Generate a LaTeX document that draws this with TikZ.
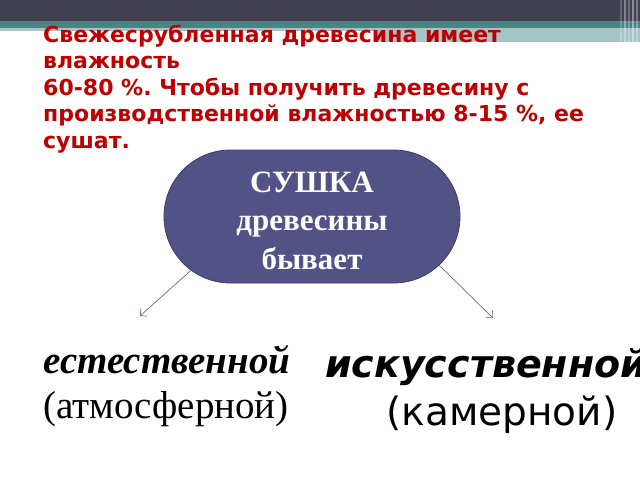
\documentclass[tikz,border=0pt]{standalone}
\usepackage{fontspec}
\setmainfont{Liberation Serif}
\newfontfamily\dejavu{DejaVu Sans}
\usetikzlibrary{shapes.misc,arrows.meta}
\definecolor{barDark}{HTML}{41414F}
\definecolor{barTeal}{HTML}{4A8585}
\definecolor{barLight}{HTML}{A4C4C6}
\definecolor{titleRed}{HTML}{C00000}
\definecolor{ovalFill}{HTML}{525287}
\definecolor{ovalLine}{HTML}{3C3C6C}
\definecolor{arrowLine}{HTML}{6868A0}
\frenchspacing
\tikzset{
  titletext/.style={anchor=base west, inner sep=0pt, align=left, text=titleRed,
    font=\dejavu\bfseries\fontsize{22}{26.5}\selectfont},
  oval/.style={rounded rectangle, draw=ovalLine, fill=ovalFill, line width=.8pt,
    minimum width=296pt, minimum height=133pt, inner sep=0pt, align=center, text=white,
    font=\bfseries\fontsize{31}{38.5}\selectfont},
  kind/.style={anchor=base west, inner sep=0pt},
  kindarrow/.style={draw=arrowLine, line width=.7pt, -{Straight Barb[length=5pt,width=10pt]}}
}
\begin{document}
\begin{tikzpicture}[x=1pt,y=-1pt]
    \useasboundingbox (0,0) rectangle (640,480);
    % top bar
    \fill [barDark] (0,0) rectangle (640,21);
    \fill [barTeal] (0,21) rectangle (640,28);
    \fill [barLight] (0,28) rectangle (640,31);
    \fill [barLight] (377,31) rectangle (640,42);
    \foreach \x/\o in {620/.2,624/.35,628/.25,632/.4,636/.3}
        \fill [white, opacity=\o] (\x,0) rectangle ++(2,42);
    % text
    \node [titletext] (title) at (43,148) {Свежесрубленная древесина имеет\\влажность\\60-80 \%. Чтобы получить древесину с\\производственной влажностью 8-15 \%, ее\\сушат.};
    \node [oval] (sushka) at (312,216.5) {\rule{0pt}{29pt}СУШКА\\древесины\\бывает};
    \coordinate (natEnd) at (140,316);
    \coordinate (artEnd) at (493,318);
    \draw [kindarrow] (sushka.204) -- (natEnd);
    \draw [kindarrow] (sushka.339) -- (artEnd);
    \node [kind, font=\bfseries\itshape\fontsize{39}{39}\selectfont] (natural) at (43,373) {естественной};
    \node [kind, font=\fontsize{39}{39}\selectfont] (naturalsub) at (43,418) {(атмосферной)};
    \node [kind, font=\dejavu\bfseries\itshape\fontsize{38}{38}\selectfont] (artificial) at (325,377) {искусственной};
    \node [anchor=base, inner sep=0pt, font=\dejavu\fontsize{39}{39}\selectfont] (artificialsub) at (502,425) {(камерной)};
\end{tikzpicture}
\end{document}
